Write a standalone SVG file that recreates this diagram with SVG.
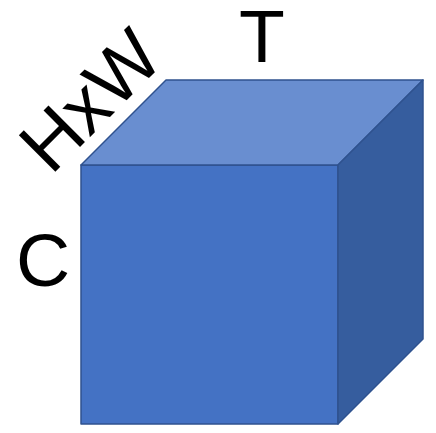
<svg xmlns="http://www.w3.org/2000/svg" width="436" height="433" viewBox="0 0 436 433">
<style>
.face{stroke:#2F528F;stroke-width:1.5;stroke-linejoin:round}
.lbl{font-family:"Liberation Sans",Arial,sans-serif;font-size:75px;fill:#000}
</style>
<rect width="436" height="433" fill="#fff"/>
<g id="cube">
<polygon class="face" points="81,165 338,165 338,424 81,424" fill="#4472C4"/>
<polygon class="face" points="81,165 166,80 423,80 338,165" fill="#698ED0"/>
<polygon class="face" points="338,165 423,80 423,339 338,424" fill="#365D9E"/>
</g>
<g id="labels">
<text class="lbl" x="262" y="62" text-anchor="middle">T</text>
<text class="lbl" x="16" y="286">C</text>
<text class="lbl" transform="translate(51,176) rotate(-45)">HxW</text>
</g>
</svg>
